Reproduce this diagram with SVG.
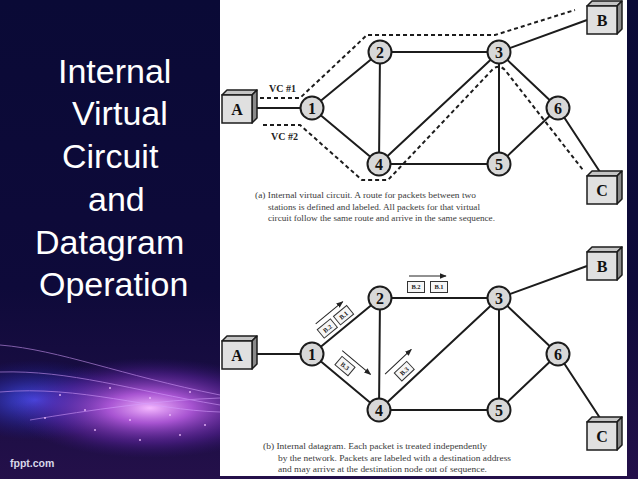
<svg xmlns="http://www.w3.org/2000/svg" width="638" height="479" viewBox="0 0 638 479">
<defs>
<linearGradient id="bg" x1="0" y1="0" x2="0" y2="1">
<stop offset="0" stop-color="#0a0a36"/>
<stop offset="0.6" stop-color="#0e0a3a"/>
<stop offset="1" stop-color="#24104a"/>
</linearGradient>
<radialGradient id="glow" cx="0.5" cy="0.5" r="0.5">
<stop offset="0" stop-color="#f4b8ff" stop-opacity="1"/>
<stop offset="0.3" stop-color="#c060ea" stop-opacity="0.85"/>
<stop offset="0.7" stop-color="#6a28b0" stop-opacity="0.45"/>
<stop offset="1" stop-color="#3a1580" stop-opacity="0"/>
</radialGradient>
<radialGradient id="glowb" cx="0.5" cy="0.5" r="0.5">
<stop offset="0" stop-color="#4a55ff" stop-opacity="0.9"/>
<stop offset="1" stop-color="#1a1a90" stop-opacity="0"/>
</radialGradient>
<marker id="ah" viewBox="0 0 10 10" refX="9" refY="5" markerWidth="7" markerHeight="7" orient="auto" markerUnits="userSpaceOnUse">
<path d="M0,1 L10,5 L0,9 z" fill="#222"/>
</marker>
</defs>
<style>
.edge{stroke:#1c1c1c;stroke-width:2;fill:none}
.vc{stroke:#1c1c1c;stroke-width:2;stroke-dasharray:4 3;fill:none}
.node circle{fill:#d8d8d8;stroke:#1c1c1c;stroke-width:2}
.node text{font-family:"Liberation Serif",serif;font-weight:bold;font-size:16px;text-anchor:middle;fill:#111}
.host .f{fill:#e0e0e0;stroke:#1c1c1c;stroke-width:1.5}
.host .t{fill:#c4c4c4;stroke:#1c1c1c;stroke-width:1.5;stroke-linejoin:round}
.host .r{fill:#8a8a8a;stroke:#1c1c1c;stroke-width:1.5;stroke-linejoin:round}
.host text{font-family:"Liberation Serif",serif;font-weight:bold;font-size:16px;text-anchor:middle;fill:#111}
.cap{font-family:"Liberation Serif",serif;font-size:8.6px;fill:#3a3a3a}
.vcl{font-family:"Liberation Serif",serif;font-size:10px;font-weight:bold;fill:#222}
.title{font-family:"Liberation Sans",Arial,sans-serif;font-size:34px;fill:#ffffff}
.pkt rect{fill:#f6f6f6;stroke:#333;stroke-width:1}
.pkt text{font-family:"Liberation Serif",serif;font-size:6.5px;font-weight:bold;text-anchor:middle;fill:#222}
.arr{stroke:#222;stroke-width:1;fill:none;marker-end:url(#ah)}
</style>

<!-- background -->
<rect x="0" y="0" width="638" height="479" fill="url(#bg)"/>
<ellipse cx="35" cy="400" rx="90" ry="40" fill="url(#glowb)"/>
<ellipse cx="150" cy="408" rx="140" ry="50" fill="url(#glow)"/>
<g fill="none" stroke="#d7a0ff" stroke-width="1" opacity="0.55">
<path d="M0,345 C60,350 120,375 220,395"/>
<path d="M0,372 C70,370 130,390 220,405"/>
<path d="M0,392 C80,385 150,410 220,412"/>
<path d="M30,420 C90,410 160,400 220,398"/>
</g>
<g fill="#f0c0ff" opacity="0.85">
<circle cx="60" cy="395" r="1"/><circle cx="85" cy="410" r="1"/><circle cx="110" cy="388" r="1"/>
<circle cx="130" cy="420" r="1"/><circle cx="150" cy="398" r="1"/><circle cx="170" cy="415" r="1"/>
<circle cx="190" cy="392" r="1"/><circle cx="205" cy="425" r="1"/><circle cx="95" cy="430" r="1"/>
<circle cx="140" cy="440" r="1"/><circle cx="180" cy="435" r="1"/><circle cx="45" cy="418" r="1"/>
</g>
<rect x="220" y="0" width="407" height="476" fill="#ffffff"/>

<!-- title -->
<g class="title">
<text x="58" y="83">Internal</text>
<text x="72" y="125">Virtual</text>
<text x="62" y="168">Circuit</text>
<text x="88" y="211">and</text>
<text x="35" y="254">Datagram</text>
<text x="39" y="296">Operation</text>
</g>
<text x="10" y="467" font-family="Liberation Sans, Arial, sans-serif" font-size="10.5" font-weight="bold" fill="#d8d8ea">fppt.com</text>

<!-- connectors -->
<g id="connectors">
<path class="edge" d="M256,108 L312,108 M312,108 L380,52 M312,108 L379,164 M380,52 L499,52 M380,52 L379,164 M379,164 L499,52 M379,164 L499,164 M499,52 L499,164 M499,52 L558,108 M499,164 L558,108 M499,52 L587,20 M558,108 L600,172"/>
<path class="vc" d="M260,98 L300,98 L367,35 L495,35 L575,10"/>
<path class="vc" d="M263,125 L300,125 L362,180 L388,180 L493,69 Q499,64 505,70 L583,170"/>
<path class="edge" d="M256,354 L312,354 M312,354 L380,298 M312,354 L379,410 M380,298 L499,298 M380,298 L379,410 M379,410 L499,298 M379,410 L499,410 M499,298 L499,410 M499,298 L558,354 M499,410 L558,354 M499,298 L587,266 M558,354 L600,418"/>
</g>
<text class="vcl" x="269" y="92">VC #1</text>
<text class="vcl" x="271" y="140">VC #2</text>

<!-- packets (b) -->
<g class="pkt" transform="translate(312,354) rotate(-39.35)">
<line class="arr" x1="22" y1="-21" x2="57" y2="-21"/>
<rect x="19.5" y="-15.5" width="17" height="11"/><text x="28" y="-7.6">B.2</text>
<rect x="40.5" y="-15.5" width="17" height="11"/><text x="49" y="-7.6">B.1</text>
</g>
<g class="pkt" transform="translate(380,298)">
<line class="arr" x1="29" y1="-22" x2="66" y2="-22"/>
<rect x="27.5" y="-16.5" width="17" height="11"/><text x="36" y="-8.6">B.2</text>
<rect x="50.5" y="-16.5" width="17" height="11"/><text x="59" y="-8.6">B.1</text>
</g>
<g class="pkt" transform="translate(312,354) rotate(40)">
<line class="arr" x1="21" y1="-22" x2="58" y2="-22"/>
<rect x="24.5" y="-17.5" width="17" height="11"/><text x="33" y="-9.6">B.3</text>
</g>
<g class="pkt" transform="translate(379,410) rotate(-43.2)">
<line class="arr" x1="29" y1="-22" x2="65" y2="-22"/>
<rect x="36.5" y="-16.5" width="17" height="11"/><text x="45" y="-8.6">B.3</text>
</g>

<!-- hosts (a) -->
<g id="hostA-a" class="host" transform="translate(222,95)">
<polygon class="t" points="0,0 5,-5 35,-5 30,0"/><polygon class="r" points="30,0 35,-5 35,23 30,28"/>
<rect class="f" x="0" y="0" width="30" height="28"/><text x="15" y="20">A</text>
</g>
<g id="hostB-a" class="host" transform="translate(587,6)">
<polygon class="t" points="0,0 5,-5 35,-5 30,0"/><polygon class="r" points="30,0 35,-5 35,23 30,28"/>
<rect class="f" x="0" y="0" width="30" height="28"/><text x="15" y="20">B</text>
</g>
<g id="hostC-a" class="host" transform="translate(587,176)">
<polygon class="t" points="0,0 5,-5 35,-5 30,0"/><polygon class="r" points="30,0 35,-5 35,23 30,28"/>
<rect class="f" x="0" y="0" width="30" height="28"/><text x="15" y="20">C</text>
</g>
<g id="n1-a" class="node"><circle cx="312" cy="108" r="11.5"/><text x="312" y="113.5">1</text></g>
<g id="n2-a" class="node"><circle cx="380" cy="52" r="11.5"/><text x="380" y="57.5">2</text></g>
<g id="n3-a" class="node"><circle cx="499" cy="52" r="11.5"/><text x="499" y="57.5">3</text></g>
<g id="n4-a" class="node"><circle cx="379" cy="164" r="11.5"/><text x="379" y="169.5">4</text></g>
<g id="n5-a" class="node"><circle cx="499" cy="164" r="11.5"/><text x="499" y="169.5">5</text></g>
<g id="n6-a" class="node"><circle cx="558" cy="108" r="11.5"/><text x="558" y="113.5">6</text></g>

<!-- hosts (b) -->
<g id="hostA-b" class="host" transform="translate(222,341)">
<polygon class="t" points="0,0 5,-5 35,-5 30,0"/><polygon class="r" points="30,0 35,-5 35,23 30,28"/>
<rect class="f" x="0" y="0" width="30" height="28"/><text x="15" y="20">A</text>
</g>
<g id="hostB-b" class="host" transform="translate(587,252)">
<polygon class="t" points="0,0 5,-5 35,-5 30,0"/><polygon class="r" points="30,0 35,-5 35,23 30,28"/>
<rect class="f" x="0" y="0" width="30" height="28"/><text x="15" y="20">B</text>
</g>
<g id="hostC-b" class="host" transform="translate(587,422)">
<polygon class="t" points="0,0 5,-5 35,-5 30,0"/><polygon class="r" points="30,0 35,-5 35,23 30,28"/>
<rect class="f" x="0" y="0" width="30" height="28"/><text x="15" y="20">C</text>
</g>
<g id="n1-b" class="node"><circle cx="312" cy="354" r="11.5"/><text x="312" y="359.5">1</text></g>
<g id="n2-b" class="node"><circle cx="380" cy="298" r="11.5"/><text x="380" y="303.5">2</text></g>
<g id="n3-b" class="node"><circle cx="499" cy="298" r="11.5"/><text x="499" y="303.5">3</text></g>
<g id="n4-b" class="node"><circle cx="379" cy="410" r="11.5"/><text x="379" y="415.5">4</text></g>
<g id="n5-b" class="node"><circle cx="499" cy="410" r="11.5"/><text x="499" y="415.5">5</text></g>
<g id="n6-b" class="node"><circle cx="558" cy="354" r="11.5"/><text x="558" y="359.5">6</text></g>

<!-- captions -->
<g class="cap">
<text x="255" y="198" textLength="221" lengthAdjust="spacingAndGlyphs">(a) Internal virtual circuit. A route for packets between two</text>
<text x="268" y="210" textLength="212" lengthAdjust="spacingAndGlyphs">stations is defined and labeled. All packets for that virtual</text>
<text x="268" y="221" textLength="227" lengthAdjust="spacingAndGlyphs">circuit follow the same route and arrive in the same sequence.</text>
<text x="263" y="449" textLength="224" lengthAdjust="spacingAndGlyphs">(b) Internal datagram. Each packet is treated independently</text>
<text x="278" y="461" textLength="233" lengthAdjust="spacingAndGlyphs">by the network. Packets are labeled with a destination address</text>
<text x="278" y="472" textLength="209" lengthAdjust="spacingAndGlyphs">and may arrive at the destination node out of sequence.</text>
</g>
</svg>
